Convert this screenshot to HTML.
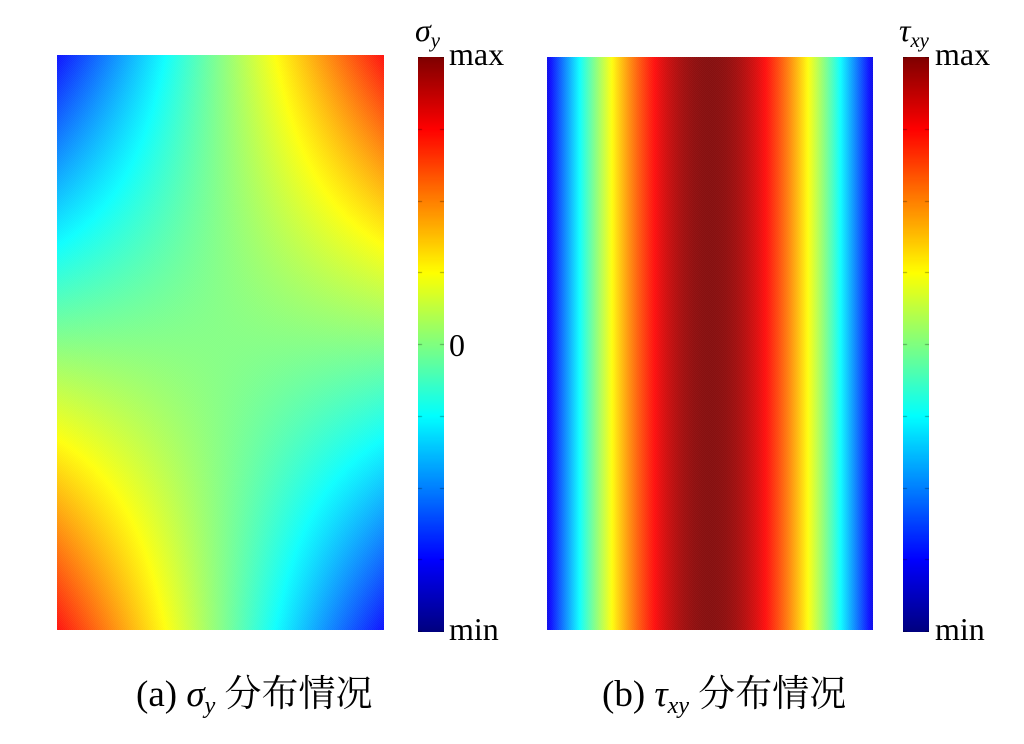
<!DOCTYPE html>
<html><head><meta charset="utf-8"><style>
body{margin:0;width:1024px;height:744px;background:#fff;position:relative;overflow:hidden;font-family:"Liberation Serif","Noto Serif CJK SC",serif;}
canvas{position:absolute;}
.t{position:absolute;font-size:32px;line-height:1;color:#000;}
.cap{position:absolute;font-size:37px;line-height:1;white-space:nowrap;font-family:"Liberation Serif","Noto Serif CJK SC",serif;}
i{font-style:italic}
sub{font-size:0.65em;vertical-align:-0.3em}
</style></head><body>
<canvas id="a" width="327" height="575" style="left:57px;top:55px"></canvas>
<canvas id="b" width="326" height="573" style="left:547px;top:57px"></canvas>
<canvas id="ca" width="26" height="575" style="left:418px;top:57px"></canvas>
<canvas id="cb" width="26" height="575" style="left:903px;top:57px"></canvas>
<div class="t" style="left:415px;top:14px"><i>σ<sub>y</sub></i></div>
<div class="t" style="left:449px;top:38px">max</div>
<div class="t" style="left:449px;top:329px">0</div>
<div class="t" style="left:449px;top:613px">min</div>
<div class="t" style="left:899px;top:14px"><i>τ<sub>xy</sub></i></div>
<div class="t" style="left:935px;top:38px">max</div>
<div class="t" style="left:935px;top:613px">min</div>
<div class="cap" style="left:136px;top:676px">(a) <i>σ<sub>y</sub></i> 分布情况</div>
<div class="cap" style="left:602px;top:676px">(b) <i>τ<sub>xy</sub></i> 分布情况</div>
<script>
function jet(v){v=Math.max(0,Math.min(1,v));
function c(x){return Math.max(0,Math.min(1,x));}
var r=c(1.5-Math.abs(4*v-3)),g=c(1.5-Math.abs(4*v-2)),b=c(1.5-Math.abs(4*v-1));
return [r*255,g*255,b*255];}
function draw(id,f,hatch){var cv=document.getElementById(id),ctx=cv.getContext('2d'),w=cv.width,h=cv.height;
var im=ctx.createImageData(w,h);
for(var y=0;y<h;y++)for(var x=0;x<w;x++){var c=jet(f(x/(w-1),y/(h-1)));var k=(y*w+x)*4;
var m=hatch?(((x+y)%2==0)?0.12:0.03):0;
im.data[k]=c[0]+(255-c[0])*m;im.data[k+1]=c[1]+(255-c[1])*m;im.data[k+2]=c[2]+(255-c[2])*m;im.data[k+3]=255;}
ctx.putImageData(im,0,0);}
draw('a',function(u,v){var x=2*u-1,y=1-2*v;return 0.5+0.37*x*y;},true);
draw('b',function(u,v){return 0.1+0.9*Math.sin(Math.PI*u);},true);
function cb(id){draw(id,function(u,v){return 1-v;},false);
var ctx=document.getElementById(id).getContext('2d');ctx.strokeStyle='rgba(0,0,0,0.35)';
for(var i=0;i<=8;i++){var y=Math.round(i*574/8)+0.5;ctx.beginPath();ctx.moveTo(0,y);ctx.lineTo(4,y);ctx.moveTo(22,y);ctx.lineTo(26,y);ctx.stroke();}}
cb('ca');cb('cb');
</script>
</body></html>
